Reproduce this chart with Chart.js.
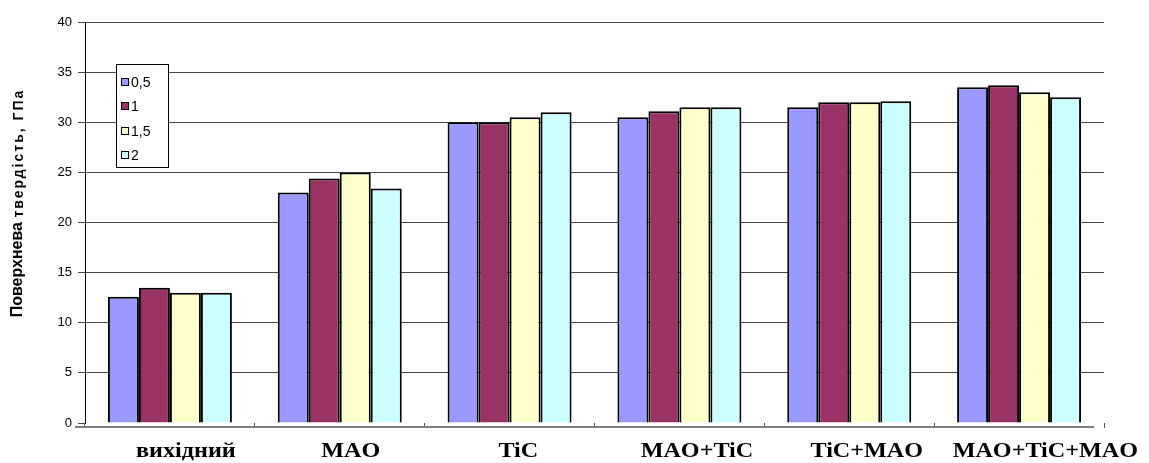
<!DOCTYPE html>
<html>
<head>
<meta charset="utf-8">
<script src="https://cdn.jsdelivr.net/npm/chart.js@4"></script>
<style>
html,body{margin:0;padding:0;background:#fff;}
#wrap{width:1149px;height:463px;position:relative;}
</style>
</head>
<body>
<div id="wrap"><canvas id="c" width="1149" height="463"></canvas></div>
<script>
const categories = ['вихідний', 'MAO', 'TiC', 'MAO+TiC', 'TiC+MAO', 'MAO+TiC+MAO'];
const seriesNames = ['0,5', '1', '1,5', '2'];
const s05 = [12.6, 23.0, 30.0, 30.5, 31.5, 33.5];
const s1  = [13.5, 24.4, 30.0, 31.1, 32.0, 33.7];
const s15 = [13.0, 25.0, 30.5, 31.5, 32.0, 33.0];
const s2  = [13.0, 23.4, 31.0, 31.5, 32.1, 32.5];
const yTicks = [0, 5, 10, 15, 20, 25, 30, 35, 40];
const yTitleMain = 'Поверхнева';
const yTitleRest = 'твердість, ГПа';

const colors = ['#9999FF', '#993366', '#FFFFCC', '#CCFFFF'];
const seriesValues = [s05, s1, s15, s2];

const extras = {
  id: 'extras',
  afterDraw(chart) {
    const ctx = chart.ctx;
    const a = chart.chartArea;
    ctx.save();
    // x axis line (slightly offset as in the reference)
    ctx.strokeStyle = '#808080';
    ctx.lineWidth = 2;
    ctx.beginPath();
    ctx.moveTo(a.left - 10, a.bottom + 4);
    ctx.lineTo(a.right - 10, a.bottom + 4);
    ctx.stroke();
    ctx.restore();

    // x category labels (stretched serif bold)
    const xs = chart.scales.x;
    ctx.save();
    ctx.fillStyle = '#000';
    ctx.font = 'bold 21px "Liberation Serif", "Times New Roman", serif';
    ctx.textAlign = 'center';
    ctx.textBaseline = 'alphabetic';
    const sx = 1.15;
    categories.forEach((lab, i) => {
      const w = ctx.measureText(lab).width * sx;
      const x = xs.getPixelForTick(i) + 4 + 0.12 * w;
      ctx.save();
      ctx.translate(x, 457);
      ctx.scale(sx, 1);
      ctx.fillText(lab, 0, 0);
      ctx.restore();
    });
    ctx.restore();

    // y axis title with mixed sizes
    ctx.save();
    ctx.translate(18, 203);
    ctx.rotate(-Math.PI / 2);
    ctx.fillStyle = '#000';
    ctx.textBaseline = 'middle';
    ctx.font = 'bold 16px Arial, "Liberation Sans", sans-serif';
    const w1 = ctx.measureText(yTitleMain + ' ').width;
    ctx.font = 'bold 14px Arial, "Liberation Sans", sans-serif';
    ctx.letterSpacing = '2px';
    const w2 = ctx.measureText(yTitleRest).width;
    const start = -(w1 + w2) / 2;
    ctx.letterSpacing = '0px';
    ctx.font = 'bold 16px Arial, "Liberation Sans", sans-serif';
    ctx.textAlign = 'left';
    ctx.fillText(yTitleMain, start, 0);
    ctx.font = 'bold 14px Arial, "Liberation Sans", sans-serif';
    ctx.letterSpacing = '2px';
    ctx.fillText(yTitleRest, start + w1, 1);
    ctx.restore();

    // legend
    ctx.save();
    ctx.fillStyle = '#fff';
    ctx.fillRect(116, 64, 52, 103);
    ctx.strokeStyle = '#000';
    ctx.lineWidth = 1;
    ctx.strokeRect(116.5, 64.5, 52, 103);
    const rows = [82, 106, 131, 155];
    chart.data.datasets.forEach((ds, i) => {
      const y = rows[i];
      ctx.fillStyle = ds.backgroundColor;
      ctx.fillRect(121, y - 4, 8, 8);
      ctx.strokeStyle = '#000';
      ctx.strokeRect(121.5, y - 3.5, 7, 7);
      ctx.fillStyle = '#000';
      ctx.font = '14px Arial, "Liberation Sans", sans-serif';
      ctx.textBaseline = 'middle';
      ctx.textAlign = 'left';
      ctx.fillText(ds.label, 131, y + 1);
    });
    ctx.restore();
  }
};

new Chart(document.getElementById('c'), {
  type: 'bar',
  data: {
    labels: categories,
    datasets: seriesValues.map((v, i) => ({
      label: seriesNames[i],
      data: v,
      backgroundColor: colors[i],
      borderColor: '#000',
      borderWidth: 2,
      categoryPercentage: 0.73,
      barPercentage: 1.0
    }))
  },
  options: {
    responsive: false,
    animation: false,
    layout: { padding: { top: 22, right: 45, bottom: 0, left: 0 } },
    plugins: { legend: { display: false }, tooltip: { enabled: false } },
    scales: {
      x: {
        border: { display: false },
        grid: { drawOnChartArea: false, drawTicks: true, tickLength: 5, color: '#555', offset: true },
        ticks: { display: false },
        afterFit(scale) { scale.height = 40; }
      },
      y: {
        min: 0, max: 40,
        afterBuildTicks(scale) { scale.ticks = yTicks.map(v => ({ value: v })); },
        border: { display: true, color: '#000', width: 1 },
        grid: {
          color: (c) => (c.tick && c.tick.value === 0) ? 'rgba(0,0,0,0)' : '#444',
          tickColor: '#444',
          tickLength: 7,
          lineWidth: 1
        },
        ticks: {
          color: '#000',
          padding: 6,
          font: { family: 'Arial, "Liberation Sans", sans-serif', size: 13 }
        },
        afterFit(scale) { scale.width = 85; }
      }
    }
  },
  plugins: [extras]
});
</script>
</body>
</html>
